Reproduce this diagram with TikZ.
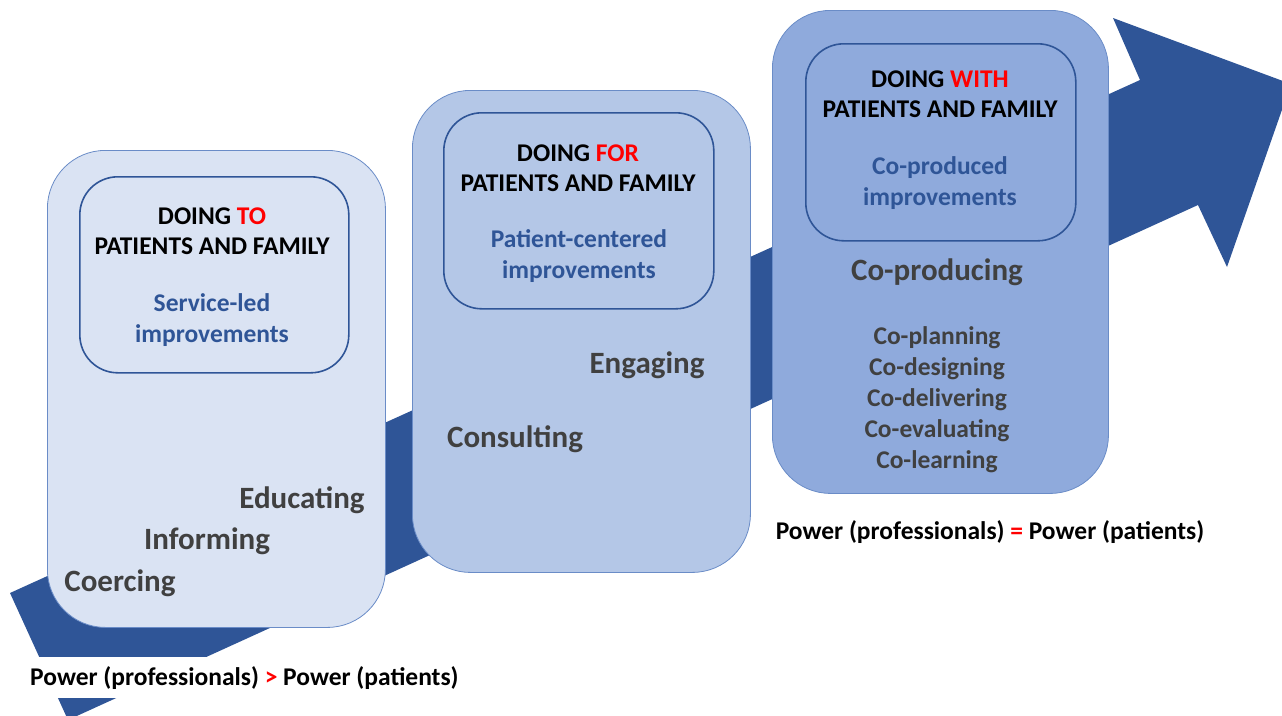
\documentclass[tikz,border=0pt]{standalone}
\usepackage{fontspec}
\setmainfont{Carlito}

\definecolor{arrowblue}{HTML}{2F5597}
\definecolor{tofill}{HTML}{DAE3F3}
\definecolor{forfill}{HTML}{B4C7E7}
\definecolor{withfill}{HTML}{8FAADC}
\definecolor{stageline}{HTML}{6A8CC7}
\definecolor{aimblue}{HTML}{2F5597}
\definecolor{rungtext}{HTML}{404040}
\definecolor{accent}{HTML}{FF0000}

\tikzset{
  stage/.style={draw=stageline, line width=0.8pt, rounded corners=58pt,
    anchor=north west, inner sep=0pt},
  goal/.style={draw=arrowblue, line width=1.6pt, rounded corners=38pt,
    anchor=north west, inner sep=0pt},
  head/.style={font=\bfseries\fontsize{25.5}{30}\selectfont, align=center},
  aim/.style={font=\bfseries\fontsize{25.5}{31}\selectfont, text=aimblue, align=center},
  rung/.style={font=\bfseries\fontsize{31}{34}\selectfont, text=rungtext},
  subrung/.style={font=\bfseries\fontsize{25.5}{31}\selectfont, text=rungtext, align=center},
  power/.style={font=\bfseries\fontsize{25.5}{28}\selectfont}
}

\begin{document}
\begin{tikzpicture}[x=1pt,y=-1pt]
\useasboundingbox (0,0) rectangle (1282,715);

% the big arrow behind the three stages
\begin{scope}
\clip (0,0) rectangle (1282,715);
\fill[arrowblue] (10,593) -- (1140,80) -- (1113,18) -- (1291,84)
  -- (1227,267) -- (1198,205) -- (68,720) -- cycle;
\end{scope}

% stage boxes
\node[stage, fill=tofill, minimum width=338pt, minimum height=477pt] (tobox) at (47,150) {};
\node[stage, fill=forfill, minimum width=338pt, minimum height=482pt] (forbox) at (412,90) {};
\node[stage, fill=withfill, minimum width=336pt, minimum height=483pt] (withbox) at (772,10) {};

\node[goal, minimum width=269pt, minimum height=196pt] (togoal) at (79,176) {};
\node[goal, minimum width=270pt, minimum height=196pt] (forgoal) at (443,112) {};
\node[goal, minimum width=270pt, minimum height=197pt] (withgoal) at (805,43) {};

% doing to
\node[head] (tohead) at (212,231) {DOING \textcolor{accent}{TO}\\PATIENTS AND FAMILY};
\node[aim] (toaim) at (212,320) {Service-led\\improvements};
\node[rung] (educating) at (302,500) {Educating};
\node[rung] (informing) at (207,541) {Informing};
\node[rung] (coercing) at (120,583) {Coercing};

% doing for
\node[head] (forhead) at (578,168) {DOING \textcolor{accent}{FOR}\\PATIENTS AND FAMILY};
\node[aim] (foraim) at (579,256) {Patient-centered\\improvements};
\node[rung] (engaging) at (647,365) {Engaging};
\node[rung] (consulting) at (515,439) {Consulting};

% doing with
\node[head] (withhead) at (940,94) {DOING \textcolor{accent}{WITH}\\PATIENTS AND FAMILY};
\node[aim] (withaim) at (940,183) {Co-produced\\improvements};
\node[rung] (coproducing) at (937,272) {Co-producing};
\node[subrung] (coparts) at (937,400) {Co-planning\\Co-designing\\Co-delivering\\Co-evaluating\\Co-learning};

% power balance
\node[power, fill=white, anchor=west, inner xsep=4pt, inner ysep=9.5pt,
  text height=19pt, text depth=3pt] (imbalance) at (26,677.5)
  {Power (professionals) \textcolor{accent}{>} Power (patients)};
\node[power] (balance) at (990,532)
  {Power (professionals) \textcolor{accent}{=} Power (patients)};
\end{tikzpicture}
\end{document}
